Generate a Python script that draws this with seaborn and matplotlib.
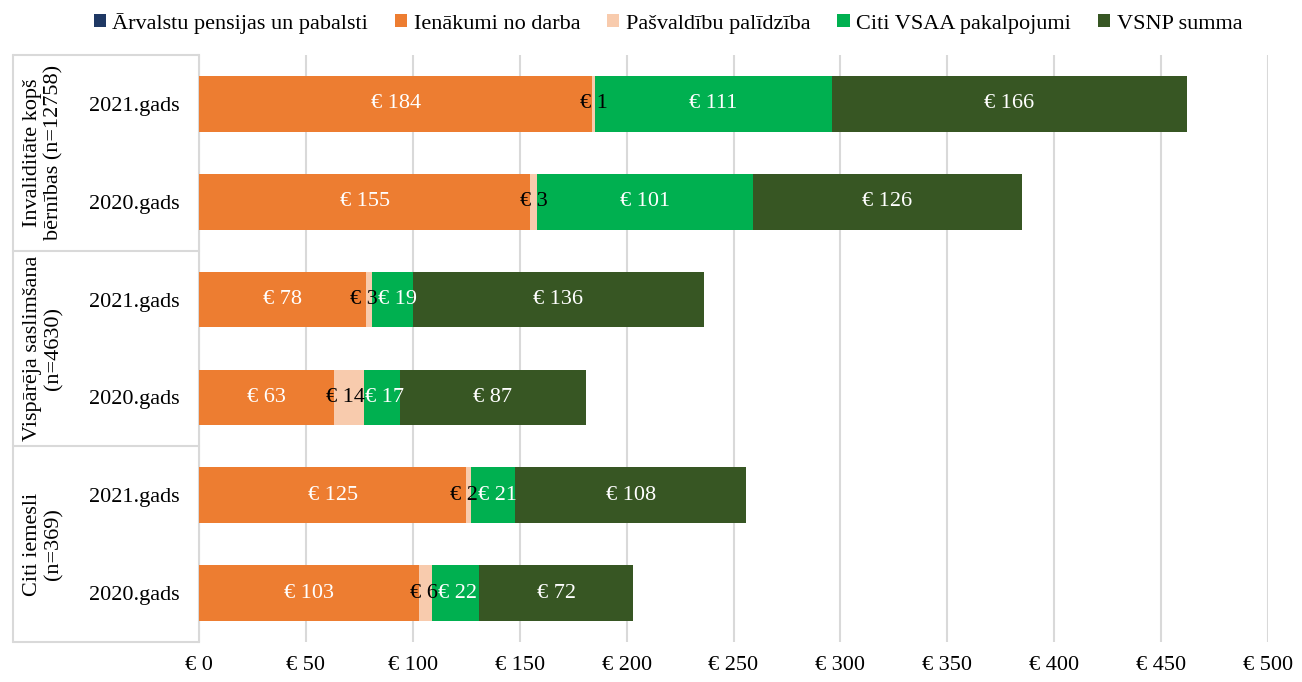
import numpy as np
import pandas as pd
import matplotlib
matplotlib.use("Agg")
import matplotlib.pyplot as plt
from matplotlib.patches import Patch
from matplotlib.lines import Line2D
import seaborn as sns

# ---- data ----
rindas = ["2021.gads", "2020.gads", "2021.gads", "2020.gads", "2021.gads", "2020.gads"]
grupas = ["Invaliditāte kopš\nbērnības (n=12758)",
          "Vispārēja saslimšana\n(n=4630)",
          "Citi iemesli\n(n=369)"]
serijas = ["Ārvalstu pensijas un pabalsti", "Ienākumi no darba",
           "Pašvaldību palīdzība", "Citi VSAA pakalpojumi", "VSNP summa"]
arvalstu = [0, 0, 0, 0, 0, 0]
ienakumi = [184, 155, 78, 63, 125, 103]
pasvaldibu = [1, 3, 3, 14, 2, 6]
citi_vsaa = [111, 101, 19, 17, 21, 22]
vsnp = [166, 126, 136, 87, 108, 72]
x_ticks = [0, 50, 100, 150, 200, 250, 300, 350, 400, 450, 500]

krasas = ["#1F3864", "#ED7D31", "#F8CBAD", "#00B050", "#375623"]
teksta_krasas = ["white", "white", "black", "white", "white"]

# ---- long table with cumulative sums ----
vertibas = np.array([arvalstu, ienakumi, pasvaldibu, citi_vsaa, vsnp])
kumul = vertibas.cumsum(axis=0)
rid = [f"r{i}" for i in range(len(rindas))]
df = pd.DataFrame({
    "rinda": np.tile(rid, len(serijas)),
    "serija": np.repeat(serijas, len(rindas)),
    "vertiba": vertibas.ravel(),
    "kumul": kumul.ravel(),
})

sns.set_theme(style="white")
plt.rcParams["font.family"] = ["Liberation Serif", "DejaVu Serif"]
plt.rcParams["text.color"] = "black"
plt.rcParams["xtick.color"] = "black"
plt.rcParams["ytick.color"] = "black"
FS = 16

fig = plt.figure(figsize=(13.02, 6.82), dpi=100)
ax = fig.add_axes([0.1528, 0.0587, 0.8212, 0.8607])

# draw cumulative bars from the last series backwards so they stack
for s, c in reversed(list(zip(serijas, krasas))):
    sub = df[df["serija"] == s]
    sns.barplot(data=sub, x="kumul", y="rinda", order=rid, orient="h",
                color=c, saturation=1, width=0.57, linewidth=0,
                errorbar=None, ax=ax, zorder=3)

ax.set_xlim(0, 500)
ax.set_ylim(5.5, -0.5)

# segment labels, kept per row so overlapping ones can be pushed apart
etiketes = {r: [] for r in rid}
for _, r in df.iterrows():
    if r["vertiba"] <= 0:
        continue
    k = serijas.index(r["serija"])
    t = ax.text(r["kumul"] - r["vertiba"] / 2, rid.index(r["rinda"]),
                f"€ {r['vertiba']}", ha="center", va="center",
                fontsize=FS, color=teksta_krasas[k], zorder=5)
    etiketes[r["rinda"]].append(t)

fig.canvas.draw()
rend = fig.canvas.get_renderer()
px_per_unit = ax.transData.transform((1, 0))[0] - ax.transData.transform((0, 0))[0]
for r in rid:
    tl = sorted(etiketes[r], key=lambda t: t.get_position()[0])
    for a, b in zip(tl[:-1], tl[1:]):
        ea = a.get_window_extent(rend)
        eb = b.get_window_extent(rend)
        over = ea.x1 - eb.x0
        if over > 0:
            d = over / 2 / px_per_unit
            xa, ya = a.get_position()
            xb, yb = b.get_position()
            a.set_position((xa - d, ya))
            b.set_position((xb + d, yb))

ax.set_xticks(x_ticks)
ax.set_xticklabels([f"€ {v}" for v in x_ticks], fontsize=FS)
ax.set_yticks(range(len(rindas)))
ax.set_yticklabels(rindas, fontsize=FS)
ax.tick_params(axis="y", length=0, pad=14)
ax.tick_params(axis="x", length=0, pad=10)
ax.set_xlabel("")
ax.set_ylabel("")
ax.xaxis.grid(True, color="#D9D9D9", linewidth=1.5, zorder=0)
ax.set_axisbelow(True)
for sp in ["top", "right", "bottom"]:
    ax.spines[sp].set_visible(False)
ax.spines["left"].set_color("#D9D9D9")
ax.spines["left"].set_linewidth(1.5)

# group label box on the left
tr = ax.get_yaxis_transform()
x_box = -0.174
for yy in [-0.5, 1.5, 3.5, 5.5]:
    ax.add_line(Line2D([x_box, 0], [yy, yy], transform=tr, color="#D9D9D9",
                       linewidth=1.5, clip_on=False))
ax.add_line(Line2D([x_box, x_box], [-0.5, 5.5], transform=tr, color="#D9D9D9",
                   linewidth=1.5, clip_on=False))
for i, g in enumerate(grupas):
    ax.text(-0.146, 2 * i + 0.5, g, transform=tr, rotation=90,
            ha="center", va="center", fontsize=FS, linespacing=1.15)

# legend
rokturi = [Patch(facecolor=c, edgecolor="none") for c in krasas]
fig.legend(rokturi, serijas, loc="center", bbox_to_anchor=(0.513, 0.966),
           ncol=5, frameon=False, fontsize=FS, handlelength=0.55,
           handleheight=0.55, handletextpad=0.3, columnspacing=1.2)

fig.savefig("out.png", dpi=100)
